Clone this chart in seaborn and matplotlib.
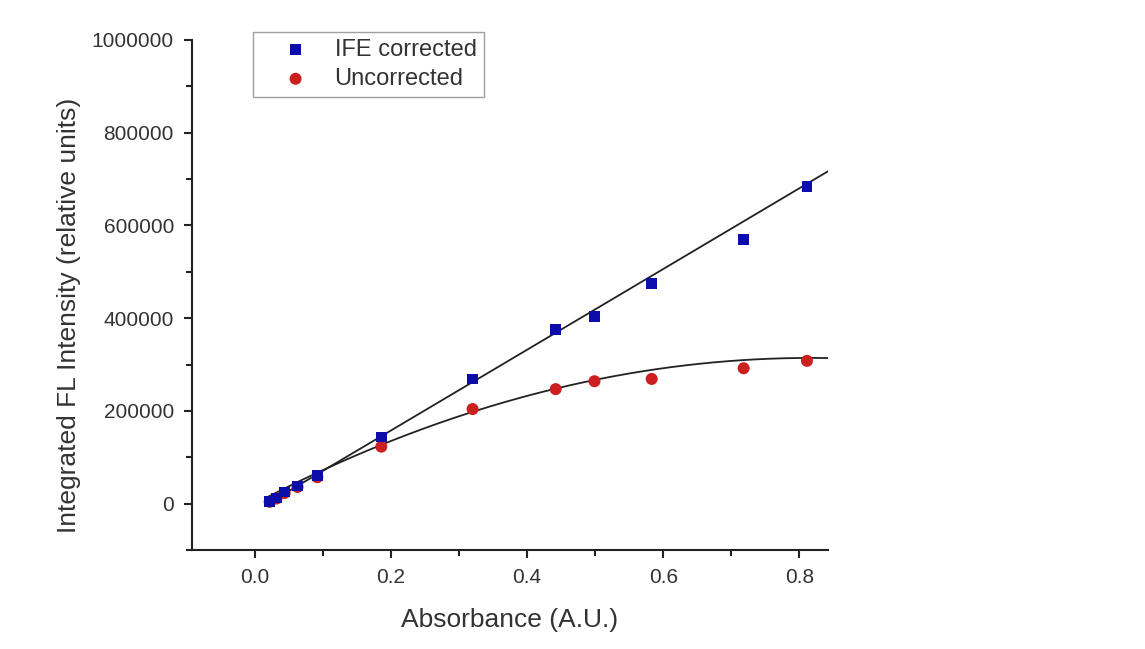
# plot.py
# Integrated fluorescence intensity vs absorbance, with and without IFE correction.

import matplotlib
matplotlib.use('Agg')
import matplotlib.pyplot as plt
from matplotlib.ticker import MultipleLocator
import numpy as np
import pandas as pd
import seaborn as sns

# Data
absorbance = [0.022, 0.032, 0.044, 0.063, 0.092, 0.186, 0.320, 0.442, 0.499, 0.583, 0.718, 0.811]
ife_corrected = [5000, 12000, 25000, 38000, 60000, 144000, 269000, 376000, 404000, 475000, 570000, 684000]
uncorrected = [4000, 11000, 23000, 36000, 57000, 123000, 204000, 247000, 264000, 269000, 292000, 308000]

# Fit curves as drawn in the picture (polynomial coefficients, highest power first)
ife_fit = [871000, -16500]
uncorrected_fit = [-471000, 769500, 0]
fit_range = [0.018, 0.85]

df = pd.DataFrame({'Absorbance': absorbance,
                   'IFE corrected': ife_corrected,
                   'Uncorrected': uncorrected})

sns.set_style('ticks')
plt.rcParams['font.family'] = ['Liberation Sans', 'DejaVu Sans']
text_color = '#333333'

fig = plt.figure(figsize=(11.45, 6.49), dpi=100)
ax = fig.add_axes([0.1677, 0.1525, 0.5555, 0.7859])

xs = np.linspace(fit_range[0], fit_range[1], 200)
ax.plot(xs, np.polyval(ife_fit, xs), color='#222222', lw=1.3, zorder=1)
ax.plot(xs, np.polyval(uncorrected_fit, xs), color='#222222', lw=1.3, zorder=1)

sns.scatterplot(data=df, x='Absorbance', y='IFE corrected', ax=ax,
                marker='s', color='#0c0caa', s=60, edgecolor='none',
                label='IFE corrected', zorder=3)
sns.scatterplot(data=df, x='Absorbance', y='Uncorrected', ax=ax,
                marker='o', color='#cc2020', s=75, edgecolor='none',
                label='Uncorrected', zorder=2)

ax.set_xlim(-0.092, 0.842)
ax.set_ylim(-100000, 1000000)
ax.xaxis.set_minor_locator(MultipleLocator(0.1))
ax.yaxis.set_minor_locator(MultipleLocator(100000))
ax.set_xticks([0.0, 0.2, 0.4, 0.6, 0.8])
ax.set_xticklabels(['0.0', '0.2', '0.4', '0.6', '0.8'])
ax.set_yticks([0, 200000, 400000, 600000, 800000, 1000000])
ax.set_yticklabels(['0', '200000', '400000', '600000', '800000', '1000000'])

sns.despine(ax=ax)
for side in ['left', 'bottom']:
    ax.spines[side].set_linewidth(1.5)
    ax.spines[side].set_color('#222222')
ax.tick_params(which='major', direction='out', length=6, width=1.5,
               color='#222222', labelsize=15, labelcolor=text_color, pad=7)
ax.tick_params(which='minor', direction='out', length=4, width=1.5, color='#222222')

ax.set_xlabel('Absorbance (A.U.)', fontsize=19, color=text_color, labelpad=15)
ax.set_ylabel('Integrated FL Intensity (relative units)', fontsize=19,
              color=text_color, labelpad=10)
ax.yaxis.set_label_coords(-0.175, 0.46)

leg = ax.legend(loc='upper left', bbox_to_anchor=(0.096, 1.016), borderaxespad=0,
                fontsize=17, frameon=True, fancybox=False, borderpad=0.3,
                labelspacing=0.3, handlelength=3.0, handletextpad=0.15)
leg.get_frame().set_edgecolor('#888888')
leg.get_frame().set_linewidth(1.0)
for t in leg.get_texts():
    t.set_color(text_color)

fig.savefig('out.png', dpi=100)
